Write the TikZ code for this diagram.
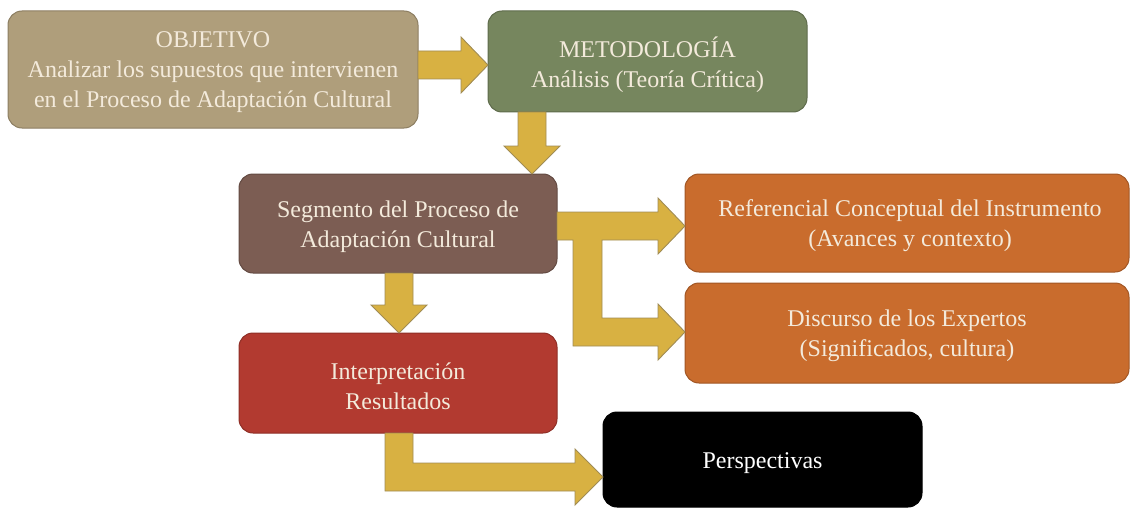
\documentclass[tikz,border=0pt]{standalone}
\usepackage{fontspec}
\setmainfont{Liberation Serif}
\usetikzlibrary{calc}

\definecolor{objfill}{HTML}{AF9E7B}
\definecolor{metfill}{HTML}{76865E}
\definecolor{segfill}{HTML}{7C5D53}
\definecolor{orgfill}{HTML}{C96C2D}
\definecolor{redfill}{HTML}{B23A30}
\definecolor{arrfill}{HTML}{D8B142}
\definecolor{arrline}{HTML}{A08C55}
\definecolor{txt}{HTML}{F3EADB}

\tikzset{
  box/.style={rectangle, rounded corners=14pt, outer sep=0pt, inner sep=0pt,
    line width=1pt},
  boxtext/.style={align=center, text=txt, inner sep=0pt,
    font=\fontsize{24}{30}\selectfont},
  blockarrow/.style={fill=arrfill, draw=arrline, line width=0.9pt, line join=miter}
}

\begin{document}
\begin{tikzpicture}[x=1pt,y=-1pt]
\useasboundingbox (0,0) rectangle (1131,508);

% boxes
\node[box, fill=objfill, draw=objfill!80!black, minimum width=410, minimum height=117]
  (obj) at (213,69.5) {};
\node[box, fill=metfill, draw=metfill!80!black, minimum width=319, minimum height=101]
  (met) at (647.5,61.5) {};
\node[box, fill=segfill, draw=segfill!80!black, minimum width=318, minimum height=99]
  (seg) at (398,223.5) {};
\node[box, fill=orgfill, draw=orgfill!80!black, minimum width=444, minimum height=98]
  (ref) at (907,223) {};
\node[box, fill=orgfill, draw=orgfill!80!black, minimum width=444, minimum height=100]
  (disc) at (907,333) {};
\node[box, fill=redfill, draw=redfill!80!black, minimum width=318, minimum height=100]
  (interp) at (398,383) {};
\node[box, fill=black, draw=black, minimum width=319, minimum height=95]
  (persp) at (762.5,459.5) {};

% box texts
\node[boxtext] (objT) at ($(obj.center)+(0,3)$)
  {OBJETIVO\\Analizar los supuestos que intervienen\\en el Proceso de Adaptación Cultural};
\node[boxtext] (metT) at ($(met.center)+(0,3)$) {METODOLOGÍA\\Análisis (Teoría Crítica)};
\node[boxtext] (segT) at ($(seg.center)+(0,3)$) {Segmento del Proceso de\\Adaptación Cultural};
\node[boxtext] (refT) at ($(ref.center)+(3,3)$) {Referencial Conceptual del Instrumento\\(Avances y contexto)};
\node[boxtext] (discT) at ($(disc.center)+(0,3)$) {Discurso de los Expertos\\(Significados, cultura)};
\node[boxtext] (interpT) at ($(interp.center)+(0,3)$) {Interpretación\\Resultados};
\node[boxtext, text=white] (perspT) at ($(persp.center)+(0,4)$) {Perspectivas};

% arrow anchor points
\coordinate (a1) at (obj.east |- 0,65);
\coordinate (a1t) at (met.west |- 0,65);
\coordinate (a2) at (met.south -| 532,0);
\coordinate (a2t) at (seg.north -| 532,0);
\coordinate (a3) at (seg.south -| 399,0);
\coordinate (a3t) at (interp.north -| 399,0);
\coordinate (a4) at (seg.east |- 0,226);
\coordinate (a4t) at (ref.west |- 0,226);
\coordinate (a4u) at (disc.west |- 0,332);
\coordinate (a5) at (interp.south -| 399,0);
\coordinate (a5t) at (persp.west |- 0,477);
% corners of the bent arrow below Interpretacion
\coordinate (a5hi) at ($(a5t)+(-28,-14)$);
\coordinate (a5lo) at ($(a5t)+(-28,14)$);
\coordinate (a5r) at ($(a5)+(14,0)$);
\coordinate (a5l) at ($(a5)+(-14,0)$);

% OBJETIVO -> METODOLOGIA
\draw[blockarrow] ($(a1)+(0,-14)$) -- ($(a1t)+(-27,-14)$) -- ($(a1t)+(-27,-28)$) -- (a1t)
  -- ($(a1t)+(-27,28)$) -- ($(a1t)+(-27,14)$) -- ($(a1)+(0,14)$) -- cycle;

% METODOLOGIA -> Segmento
\draw[blockarrow] ($(a2)+(-14,0)$) -- ($(a2t)+(-14,-28)$) -- ($(a2t)+(-28,-28)$) -- (a2t)
  -- ($(a2t)+(28,-28)$) -- ($(a2t)+(14,-28)$) -- ($(a2)+(14,0)$) -- cycle;

% Segmento -> Interpretacion
\draw[blockarrow] ($(a3)+(-14,0)$) -- ($(a3t)+(-14,-28)$) -- ($(a3t)+(-28,-28)$) -- (a3t)
  -- ($(a3t)+(28,-28)$) -- ($(a3t)+(14,-28)$) -- ($(a3)+(14,0)$) -- cycle;

% Segmento -> Referencial and Discurso (branched)
\draw[blockarrow] ($(a4)+(0,-14)$) -- ($(a4t)+(-27,-14)$) -- ($(a4t)+(-27,-28)$) -- (a4t)
  -- ($(a4t)+(-27,28)$) -- ($(a4t)+(-27,14)$) -- (602,240) -- (602,318)
  -- ($(a4u)+(-27,-14)$) -- ($(a4u)+(-27,-28)$) -- (a4u)
  -- ($(a4u)+(-27,28)$) -- ($(a4u)+(-27,14)$) -- (573,346) -- (573,240)
  -- ($(a4)+(0,14)$) -- cycle;

% Interpretacion -> Perspectivas
\draw[blockarrow] (a5l) -- (a5r) -- (a5r |- a5hi)
  -- (a5hi) -- ($(a5t)+(-28,-28)$) -- (a5t)
  -- ($(a5t)+(-28,28)$) -- (a5lo) -- (a5l |- a5lo) -- cycle;
\end{tikzpicture}
\end{document}
